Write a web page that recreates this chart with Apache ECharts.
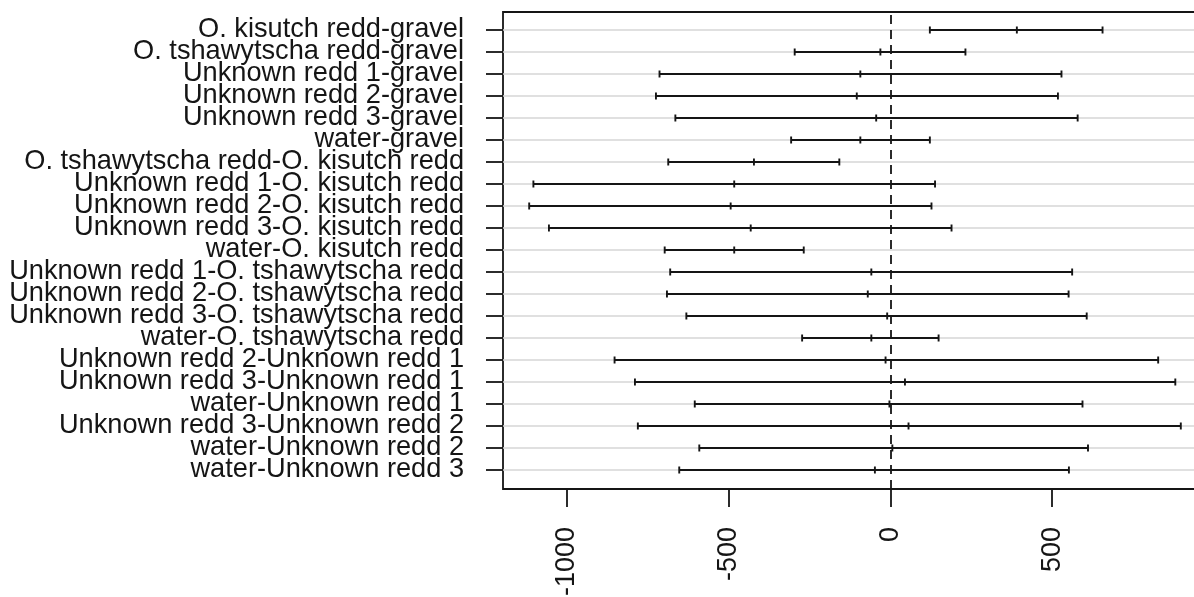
<!DOCTYPE html>
<html>
<head>
<meta charset="utf-8">
<script src="https://cdn.jsdelivr.net/npm/echarts@6/dist/echarts.min.js"></script>
<style>
  html, body { margin: 0; padding: 0; background: #fff; }
  #main { width: 1194px; height: 597px; }
</style>
</head>
<body>
<div id="main"></div>
<script>
// comparisons, top to bottom
const comparisons = [
  'O. kisutch redd-gravel',
  'O. tshawytscha redd-gravel',
  'Unknown redd 1-gravel',
  'Unknown redd 2-gravel',
  'Unknown redd 3-gravel',
  'water-gravel',
  'O. tshawytscha redd-O. kisutch redd',
  'Unknown redd 1-O. kisutch redd',
  'Unknown redd 2-O. kisutch redd',
  'Unknown redd 3-O. kisutch redd',
  'water-O. kisutch redd',
  'Unknown redd 1-O. tshawytscha redd',
  'Unknown redd 2-O. tshawytscha redd',
  'Unknown redd 3-O. tshawytscha redd',
  'water-O. tshawytscha redd',
  'Unknown redd 2-Unknown redd 1',
  'Unknown redd 3-Unknown redd 1',
  'water-Unknown redd 1',
  'Unknown redd 3-Unknown redd 2',
  'water-Unknown redd 2',
  'water-Unknown redd 3'
];
const lower = [122, -296, -714, -725, -665, -307, -687, -1104, -1117, -1056, -698, -681, -691, -631, -273, -853, -790, -605, -781, -591, -653];
const diff  = [391, -31, -93, -104, -44, -93, -422, -483, -494, -432, -483, -59, -70, -10, -59, -15, 45, -3, 56, 6, -48];
const upper = [656, 232, 529, 518, 579, 122, -158, 138, 127, 189, -268, 562, 551, 607, 149, 828, 881, 594, 898, 611, 552];
const xTicks = [-1000, -500, 0, 500];

const chart = echarts.init(document.getElementById('main'), null, { renderer: 'canvas' });

// 每行: [类别序号, 下限, 估计, 上限]
const rows = comparisons.map((c, i) => [i, lower[i], diff[i], upper[i]]);

const X_MIN = -1198, X_MAX = 979;
const ink = '#151515';

function renderBar(params, api) {
  const row = api.value(0);
  const lo = api.coord([api.value(1), row]);
  const mid = api.coord([api.value(2), row]);
  const hi = api.coord([api.value(3), row]);
  const cs = params.coordSys;
  const h = 3.5;
  const stroke = { stroke: ink, lineWidth: 1.9 };
  return {
    type: 'group',
    children: [
      { type: 'line', shape: { x1: cs.x, y1: lo[1], x2: cs.x + cs.width, y2: lo[1] },
        style: { stroke: '#d6d6d6', lineWidth: 1.6 }, z2: 1 },
      { type: 'line', shape: { x1: lo[0], y1: lo[1], x2: hi[0], y2: hi[1] }, style: stroke, z2: 5 },
      { type: 'line', shape: { x1: lo[0], y1: lo[1] - h, x2: lo[0], y2: lo[1] + h }, style: stroke, z2: 5 },
      { type: 'line', shape: { x1: mid[0], y1: mid[1] - h, x2: mid[0], y2: mid[1] + h }, style: stroke, z2: 5 },
      { type: 'line', shape: { x1: hi[0], y1: hi[1] - h, x2: hi[0], y2: hi[1] + h }, style: stroke, z2: 5 }
    ]
  };
}

const option = {
  animation: false,
  backgroundColor: '#fff',
  textStyle: { fontFamily: 'Liberation Sans, Arial, sans-serif' },
  grid: [
    // rows
    { left: 503, width: 704, top: 19, bottom: 116, outerBoundsMode: 'none', containLabel: false },
    // plot box (R adds 4% on each side)
    { left: 503, width: 704, top: 12, bottom: 108, outerBoundsMode: 'none', containLabel: false,
      show: true, borderColor: ink, borderWidth: 1.8 }
  ],
  xAxis: [
    { gridIndex: 0, type: 'value', min: X_MIN, max: X_MAX, show: false },
    {
      gridIndex: 1, type: 'value', min: X_MIN, max: X_MAX,
      splitLine: { show: false },
      axisLine: { show: false, onZero: false },
      axisTick: { show: true, length: 18, customValues: xTicks, lineStyle: { color: ink, width: 1.8 } },
      axisLabel: {
        customValues: xTicks, rotate: 90, margin: 38, fontSize: 27, color: ink,
        fontFamily: 'Liberation Sans', formatter: (v) => String(v)
      }
    }
  ],
  yAxis: [
    {
      gridIndex: 0, type: 'category', data: comparisons, inverse: true, boundaryGap: true,
      splitLine: { show: false },
      axisLine: { show: false, onZero: false },
      axisTick: { show: true, length: 17, alignWithLabel: true, interval: 0, lineStyle: { color: ink, width: 1.8 } },
      axisLabel: {
        interval: 0, margin: 39, fontSize: 27.2, color: ink, fontFamily: 'Liberation Sans',
        hideOverlap: false, padding: [3, 0, 0, 0]
      }
    },
    { gridIndex: 1, type: 'value', min: 0, max: 1, show: false }
  ],
  series: [
    {
      type: 'custom',
      xAxisIndex: 0, yAxisIndex: 0,
      renderItem: renderBar,
      data: rows,
      encode: { x: [1, 2, 3], y: 0 },
      clip: false
    },
    {
      type: 'line',
      xAxisIndex: 1, yAxisIndex: 1,
      data: [],
      markLine: {
        silent: true,
        symbol: 'none',
        label: { show: false },
        lineStyle: { color: ink, type: [9, 6], width: 1.8 },
        data: [{ xAxis: 0 }]
      }
    }
  ]
};

chart.setOption(option);
</script>
</body>
</html>
